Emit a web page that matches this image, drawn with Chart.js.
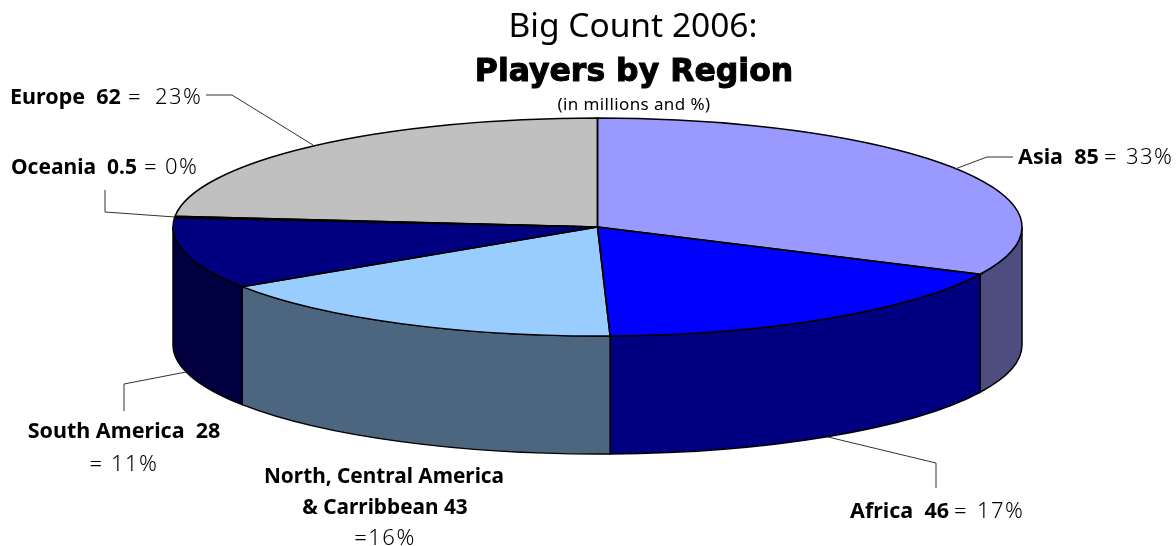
<!DOCTYPE html>
<html>
<head>
<meta charset="utf-8">
<title>Big Count 2006</title>
<script src="https://cdn.jsdelivr.net/npm/chart.js@4"></script>
<style>
  html, body { margin: 0; background: #fff; }
  canvas { display: block; }
</style>
</head>
<body>
<canvas id="pie-chart" width="1176" height="546"></canvas>
<script>
const regions = ["Asia", "Africa", "North, Central America & Carribbean", "South America", "Oceania", "Europe"];
const players = [85, 46, 43, 28, 0.5, 62];
const topColors = ["#9999ff", "#0000ff", "#99ccff", "#000080", "#ffffff", "#c0c0c0"];
const wallColors = ["#4d4d80", "#000080", "#4d6680", "#000040", "#808080", "#606060"];

// flattened pie geometry
const CX = 597.5, CY = 227, RX = 424.5, RY = 109, DEPTH = 118;
const FONT = '"Noto Sans"';

// each text piece: x (left) or cx (centre), baseline y, text, b = bold / l = light
const labels = [
  { x: 10, y: 104, t: "Europe  62", s: "b" },
  { x: 128, y: 104, t: "=", s: "l" },
  { x: 155, y: 104, t: "23%", s: "l" },
  { x: 11, y: 174, t: "Oceania  0.5", s: "b", size: 21 },
  { x: 144, y: 174, t: "=", s: "l" },
  { x: 165, y: 174, t: "0%", s: "l" },
  { x: 1018, y: 164, t: "Asia  85", s: "b" },
  { x: 1104, y: 164, t: "=", s: "l" },
  { x: 1126, y: 164, t: "33%", s: "l" },
  { x: 850, y: 518, t: "Africa  46", s: "b" },
  { x: 954, y: 518, t: "=", s: "l" },
  { x: 977, y: 518, t: "17%", s: "l" },
  { cx: 124, y: 438, t: "South America  28", s: "b" },
  { cx: 124, y: 471, t: "= 11%", s: "l" },
  { cx: 384, y: 483, t: "North, Central America", s: "b", size: 20.8 },
  { cx: 385, y: 514, t: "& Carribbean 43", s: "b", size: 20.8 },
  { cx: 385, y: 545, t: "=16%", s: "l" }
];

const leaders = [
  [[206, 95], [232, 95], [313, 145]],
  [[105, 190], [105, 212], [175, 217]],
  [[1013, 157], [987, 157], [955, 169]],
  [[124, 411], [124, 384], [186, 372]],
  [[936, 488], [936, 463], [828, 437]]
];

function drawLabel(ctx, l) {
  ctx.textBaseline = "alphabetic";
  ctx.font = l.s === "b" ? "700 " + (l.size || 21.5) + "px " + FONT : "300 22px " + FONT;
  ctx.letterSpacing = l.s === "b" ? "0px" : "1.5px";
  ctx.textAlign = l.cx !== undefined ? "center" : "left";
  ctx.fillText(l.t, l.cx !== undefined ? l.cx : l.x, l.y);
  ctx.letterSpacing = "0px";
}

function centered(ctx, text, font, x, y, spacing) {
  ctx.font = font;
  ctx.letterSpacing = spacing || "0px";
  ctx.textAlign = "center";
  ctx.textBaseline = "alphabetic";
  ctx.fillText(text, x, y);
  ctx.letterSpacing = "0px";
}

const pie3d = {
  id: "pie3d",
  beforeDatasetsDraw(chart) {
    const ctx = chart.ctx;
    const arcs = chart.getDatasetMeta(0).data;
    // side walls, only the front half of the rim shows
    arcs.forEach((arc, i) => {
      const a0 = Math.max(arc.startAngle, 0);
      const a1 = Math.min(arc.endAngle, Math.PI);
      if (a1 <= a0) return;
      ctx.beginPath();
      ctx.ellipse(CX, CY, RX, RY, 0, a0, a1);
      ctx.ellipse(CX, CY + DEPTH, RX, RY, 0, a1, a0, true);
      ctx.closePath();
      ctx.fillStyle = wallColors[i];
      ctx.fill();
      ctx.strokeStyle = "#000";
      ctx.lineWidth = 1.5;
      ctx.stroke();
    });
    // squash the library's circular pie into the ellipse
    const first = arcs[0];
    ctx.save();
    ctx.translate(CX, CY);
    ctx.scale(1, RY / RX);
    ctx.translate(-first.x, -first.y);
  },
  afterDatasetsDraw(chart) {
    const ctx = chart.ctx;
    ctx.restore();
    chart.getDatasetMeta(0).data.forEach(arc => {
      ctx.beginPath();
      ctx.moveTo(CX, CY);
      ctx.ellipse(CX, CY, RX, RY, 0, arc.startAngle, arc.endAngle);
      ctx.closePath();
      ctx.strokeStyle = "#000";
      ctx.lineWidth = 1.5;
      ctx.stroke();
    });
  },
  afterDraw(chart) {
    const ctx = chart.ctx;
    ctx.strokeStyle = "#333";
    ctx.lineWidth = 1;
    leaders.forEach(pts => {
      ctx.beginPath();
      pts.forEach((p, i) => i ? ctx.lineTo(p[0], p[1]) : ctx.moveTo(p[0], p[1]));
      ctx.stroke();
    });
    ctx.fillStyle = "#000";
    centered(ctx, "Big Count 2006:", "400 33.5px " + FONT, 633, 37);
    centered(ctx, "Players by Region", '700 31.5px "DejaVu Sans"', 634, 81);
    // the reference face is a black weight, thicken the bold a little
    ctx.strokeStyle = "#000";
    ctx.lineWidth = 1;
    ctx.strokeText("Players by Region", 634, 81);
    centered(ctx, "(in millions and %)", "400 17px " + FONT, 634, 110, "0.4px");
    labels.forEach(l => drawLabel(ctx, l));
  }
};

new Chart(document.getElementById("pie-chart"), {
  type: "pie",
  data: {
    labels: regions,
    datasets: [{
      data: players,
      backgroundColor: topColors,
      borderWidth: 0,
      radius: RX,
      clip: false
    }]
  },
  options: {
    responsive: false,
    animation: false,
    plugins: { legend: { display: false }, tooltip: { enabled: false } }
  },
  plugins: [pie3d]
});
</script>
</body>
</html>
